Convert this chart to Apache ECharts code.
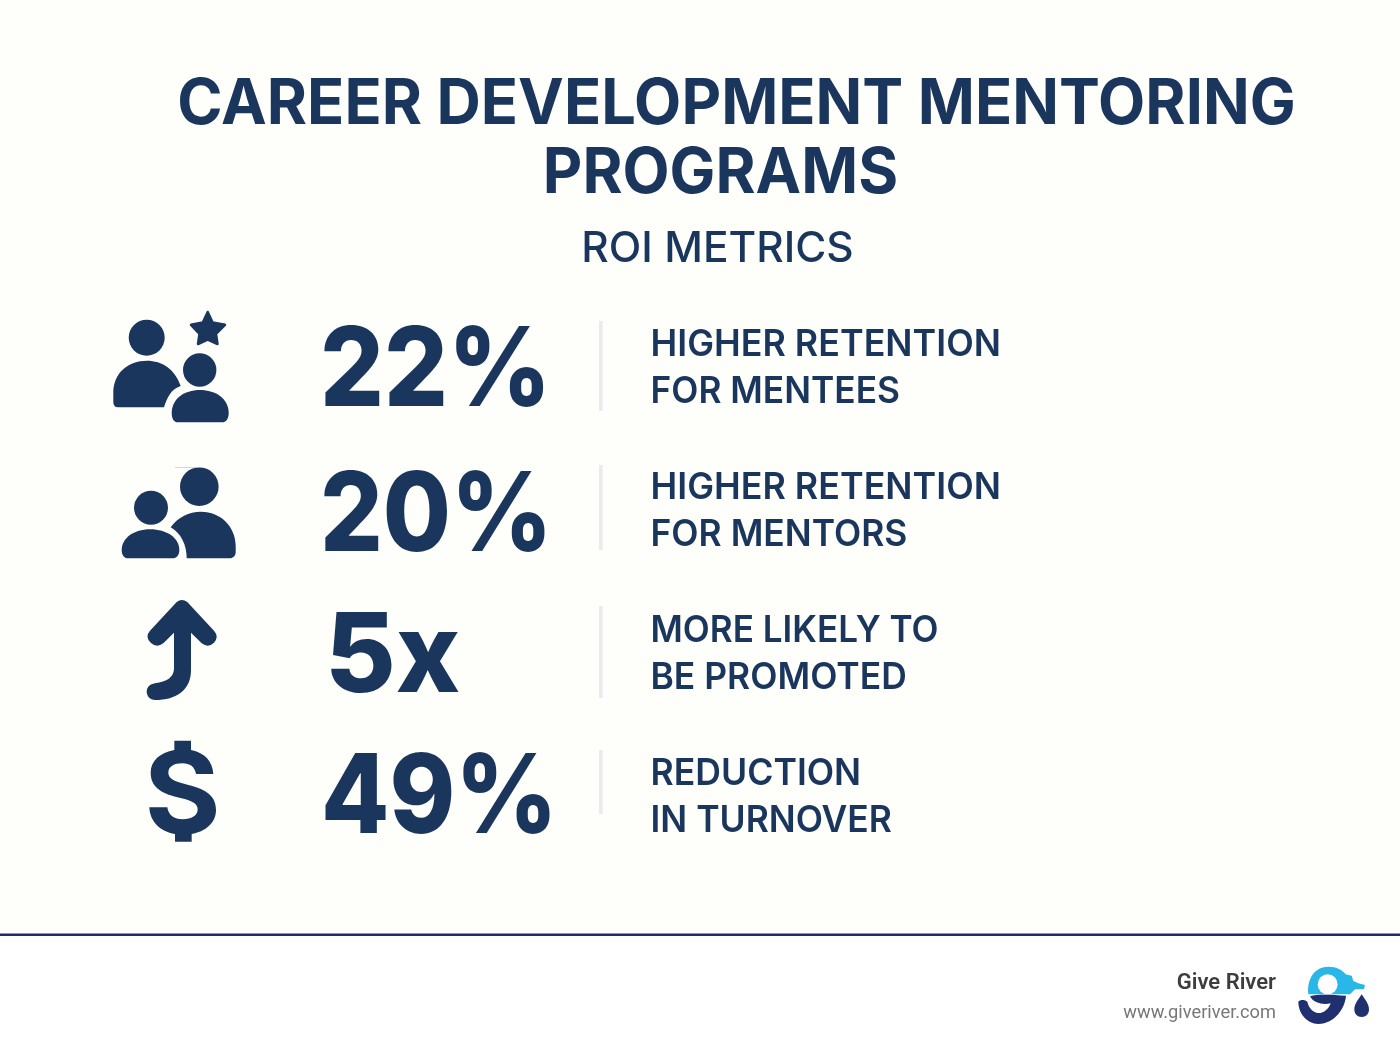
<!DOCTYPE html>
<html>
<head>
<meta charset="utf-8">
<title>Career development mentoring programs</title>
<style>
html,body{margin:0;padding:0;background:#fff;}
#js_chart{width:1400px;height:1052px;}
</style>
<script src="https://cdn.jsdelivr.net/npm/echarts@6/dist/echarts.min.js"></script>
</head>
<body>
<div id="js_chart"></div>
<script>
var titleLines = ['CAREER DEVELOPMENT MENTORING', 'PROGRAMS'];
var subTitle = 'ROI METRICS';
var rows = ['mentees', 'mentors', 'promotion', 'turnover'];
var metricValues = ['22%', '20%', '5x', '49%'];
var labelLineOne = ['HIGHER RETENTION', 'HIGHER RETENTION', 'MORE LIKELY TO', 'REDUCTION'];
var labelLineTwo = ['FOR MENTEES', 'FOR MENTORS', 'BE PROMOTED', 'IN TURNOVER'];
var brandName = 'Give River';
var brandUrl = 'www.giveriver.com';

// per row layout
var metricX = [320, 320, 325, 321];
var metricScale = [0.912, 0.896, 0.987, 0.904];
var metricShift = [6, 8, 6, 4];
var lineOneScale = [0.969, 0.969, 0.948, 0.962];
var lineTwoScale = [0.954, 0.958, 0.958, 0.958];
var dividerTop = [321, 465, 606, 750];
var dividerBottom = [411, 550, 698, 814];

var navy = '#1a365d';
var fontName = 'Inter';

var myChart = echarts.init(document.getElementById('js_chart'));

// icon outlines
function iconPath(d, fill, stroke) {
    var r = echarts.graphic.makePath(d, {}).getBoundingRect();
    var style = {fill: fill || navy};
    if (stroke) {
        style.stroke = fill || navy;
        style.lineWidth = stroke;
        style.lineJoin = 'round';
    }
    return {
        type: 'path',
        shape: {pathData: d, x: r.x, y: r.y, width: r.width, height: r.height, layout: 'cover'},
        style: style
    };
}
function dot(cx, cy, r, fill) {
    return {type: 'circle', shape: {cx: cx, cy: cy, r: r}, style: {fill: fill || navy}};
}
function pageText(text, x, y, size, weight, color, align, scale, font) {
    return {
        type: 'text',
        silent: true,
        x: x,
        y: y + size * 0.06,
        scaleX: scale || 1,
        style: {
            text: text,
            fontFamily: font || fontName,
            fontSize: size,
            fontWeight: weight,
            fill: color,
            align: align || 'center',
            verticalAlign: 'middle'
        }
    };
}

var pageBits = [
    {type: 'rect', silent: true, shape: {x: 0, y: 0, width: 1400, height: 934}, style: {fill: '#fefefb'}},
    {type: 'rect', silent: true, shape: {x: 0, y: 933.5, width: 1400, height: 2.5}, style: {fill: '#1f2a6b'}},
    pageText(titleLines[0], 736.5, 101, 63, 700, navy, 'center', 0.974),
    pageText(titleLines[1], 720.5, 170, 63, 700, navy, 'center', 0.97),
    pageText(subTitle, 717.5, 247, 42, 500, navy, 'center', 1.01),
    pageText(brandName, 1276, 982, 22, 600, '#3d3d3d', 'right', 1, 'Roboto'),
    pageText(brandUrl, 1276, 1012, 18, 400, '#777777', 'right', 1.013, 'Roboto')
];

var dollarPath = 'M193 452L243 452L243 480C285 488 308 515 310 552L258 552C254 530 240 520 217 520C192 520 175 530 175 548C175 566 195 574 225 582C280 596 318 612 318 660C318 700 285 725 245 732L245 755L195 755L195 732C150 725 120 695 118 652L172 652C175 675 192 688 218 688C245 688 263 677 263 658C263 640 245 632 212 624C160 612 122 595 122 548C122 512 150 488 193 480Z';

var rowIcons = [
    [
        dot(146.7, 337.7, 18),
        iconPath('M113.3 393C113.3 373 128 360.7 147 360.7C162 360.7 175 369 180.7 386C171 389 167 398 164 407.3L118 407.3Q113.3 407.3 113.3 402Z'),
        dot(199.7, 370, 16.7),
        iconPath('M171.7 413C171.7 399 184 390 200 390C216 390 228.7 399 228.7 413C228.7 419 226 422.3 222 422.3L178 422.3C174 422.3 171.7 419 171.7 413Z'),
        iconPath('M207.7 312L212.6 322.5L225 324.8L216 334L217.5 344L207.7 339.5L198 344L199.5 334L191 324.8L202.8 322.5Z', navy, 2.5)
    ],
    [
        {type: 'rect', shape: {x: 175, y: 467, width: 20, height: 1}, style: {fill: '#d5d7da'}},
        dot(199.3, 486.7, 19.3),
        dot(151, 507.7, 17),
        iconPath('M121.7 550C121.7 538 134 529.3 150 529.3C167 529.3 179.3 538 179.3 550C179.3 555 177 558.3 172 558.3L128 558.3C124 558.3 121.7 555 121.7 550Z'),
        iconPath('M170.7 527.3C178 517 189 511.7 201 511.7C221 511.7 235.7 527 235.7 546L235.7 552C235.7 556 233 558.3 229 558.3L186.7 558.3C186.7 545 181 533 170.7 527.3Z')
    ],
    [
        iconPath('M176.7 602Q181.7 598 187.3 602L214 630.7Q219.3 636.7 214 642.7Q208.3 648.3 201.7 643.3L191 632.7L191 670C191 690 176.7 700 155 700C150 700 146.7 696 146.7 691.7C146.7 687.3 150 684 155 683.3C166.7 682 174 677.3 174 668.3L174 632.7L163.3 643.3Q156.7 648.3 150.7 642.7Q144.7 636.7 150 630.7Z')
    ],
    [
        {type: 'group', x: 110, y: 590, scaleX: 1 / 3, scaleY: 1 / 3, children: [iconPath(dollarPath)]}
    ]
];

var logoBits = [
    {
        type: 'group',
        x: 1290,
        y: 955,
        scaleX: 1 / 3,
        scaleY: 1 / 3,
        children: [
            iconPath('M55 118C50 70 75 35 115 35C140 35 158 45 167 58L185 62L190 78L205 85L225 90L222 103L195 103L180 118Z', '#29b6e8'),
            dot(113, 88, 30, '#fefefe'),
            iconPath('M60 124C85 116 130 120 168 122C165 160 135 205 85 207C50 205 25 175 25 140C30 133 45 133 52 140C57 162 72 176 92 174C108 170 118 157 122 145C100 150 70 145 60 124Z', '#1f2f6f'),
            iconPath('M215 118C222 130 237 145 237 163C237 178 228 186 215 186C202 186 193 178 193 163C193 145 208 130 215 118Z', '#1f2f6f')
        ]
    }
];

function renderRow(params, api) {
    var row = api.value(0);
    var cy = api.coord([0, row])[1];
    var items = rowIcons[row].concat([
        {
            type: 'text',
            x: metricX[row],
            y: cy + metricShift[row],
            scaleX: metricScale[row],
            style: {
                text: metricValues[row],
                fontFamily: fontName,
                fontSize: 110,
                fontWeight: 800,
                fill: navy,
                align: 'left',
                verticalAlign: 'middle'
            }
        },
        {
            type: 'rect',
            shape: {x: 599, y: dividerTop[row], width: 3.7, height: dividerBottom[row] - dividerTop[row]},
            style: {fill: '#e9ebef'}
        },
        pageText(labelLineOne[row], 650.5, cy - 24, 37, 600, navy, 'left', lineOneScale[row]),
        pageText(labelLineTwo[row], 650.5, cy + 23, 37, 600, navy, 'left', lineTwoScale[row])
    ]);
    return {type: 'group', children: items};
}

function renderLogo() {
    return {type: 'group', children: logoBits};
}

var option = {
    animation: false,
    backgroundColor: '#ffffff',
    grid: {left: 0, top: 295, width: 1400, height: 572},
    xAxis: {type: 'value', min: 0, max: 1400, show: false},
    yAxis: {type: 'category', data: rows, inverse: true, show: false},
    graphic: pageBits,
    series: [
        {
            type: 'custom',
            silent: true,
            renderItem: renderRow,
            data: rows.map(function (name, i) { return [i]; }),
            encode: {y: 0}
        },
        {
            type: 'custom',
            silent: true,
            clip: false,
            renderItem: renderLogo,
            data: [[0]],
            encode: {y: 0}
        }
    ]
};
myChart.setOption(option);
</script>
</body>
</html>
